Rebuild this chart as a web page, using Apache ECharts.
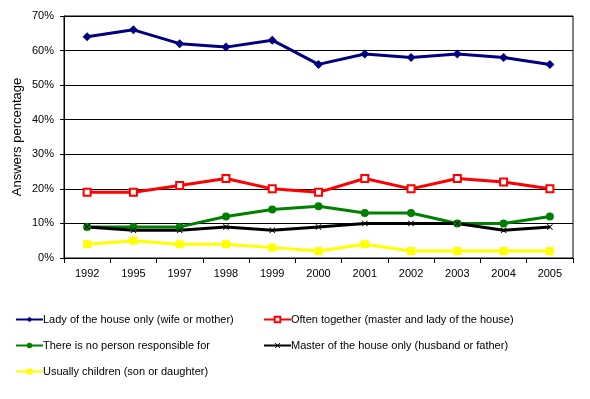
<!DOCTYPE html>
<html>
<head>
<meta charset="utf-8">
<script src="https://cdn.jsdelivr.net/npm/echarts@6/dist/echarts.min.js"></script>
<style>
  html, body { margin: 0; padding: 0; background: #fff; }
  #chart { width: 590px; height: 399px; }
</style>
</head>
<body>
<div id="chart"></div>
<script>
var years = ['1992', '1995', '1997', '1998', '1999', '2000', '2001', '2002', '2003', '2004', '2005'];
var ladyOnly = [64, 66, 62, 61, 63, 56, 59, 58, 59, 58, 56];
var oftenTogether = [19, 19, 21, 23, 20, 19, 23, 20, 23, 22, 20];
var noPerson = [9, 9, 9, 12, 14, 15, 13, 13, 10, 10, 12];
var masterOnly = [9, 8, 8, 9, 8, 9, 10, 10, 10, 8, 9];
var children = [4, 5, 4, 4, 3, 2, 4, 2, 2, 2, 2];

var font = 'Liberation Sans, Arial, sans-serif';
var xMark = 'path://M0,1L1,0L5,4L9,0L10,1L6,5L10,9L9,10L5,6L1,10L0,9L4,5Z';

function line(name, data, color, symbol, size, border) {
    return {
        name: name,
        type: 'line',
        data: data,
        symbol: symbol,
        symbolSize: size,
        showAllSymbol: true,
        lineStyle: { color: color, width: 3 },
        itemStyle: { color: color, borderColor: color, borderWidth: border },
        emphasis: { disabled: true },
        animation: false
    };
}

var myChart = echarts.init(document.getElementById('chart'));

var legendCommon = {
    orient: 'vertical',
    itemWidth: 27,
    itemHeight: 7,
    itemGap: 15,
    textStyle: { fontFamily: font, fontSize: 11, color: '#000', padding: [0, 0, 0, -5] },
    selectedMode: false
};

var option = {
    backgroundColor: '#fff',
    grid: {
        left: 64, right: 17, top: 16, bottom: 141,
        show: true, borderColor: '#000', borderWidth: 1
    },
    legend: [
        Object.assign({}, legendCommon, {
            left: 10, top: 309,
            data: ['Lady of the house only (wife or mother)', 'There is no person responsible for', 'Usually children (son or daughter)']
        }),
        Object.assign({}, legendCommon, {
            left: 258, top: 309,
            data: ['Often together (master and lady of the house)', 'Master of the house only (husband or father)']
        })
    ],
    xAxis: {
        type: 'category',
        data: years,
        boundaryGap: true,
        axisLine: { lineStyle: { color: '#000', width: 1 } },
        axisTick: { show: true, length: 5, lineStyle: { color: '#000' } },
        axisLabel: { color: '#000', fontFamily: font, fontSize: 11, margin: 10 }
    },
    yAxis: {
        type: 'value',
        min: 0, max: 70, interval: 10,
        name: 'Answers percentage',
        nameLocation: 'middle',
        nameGap: 40,
        nameMoveOverlap: false,
        nameTextStyle: { color: '#000', fontFamily: font, fontSize: 13 },
        axisLine: { show: true, lineStyle: { color: '#000', width: 1 } },
        axisTick: { show: true, length: 4, lineStyle: { color: '#000' } },
        axisLabel: { color: '#000', fontFamily: font, fontSize: 11, margin: 10, formatter: '{value}%' },
        splitLine: { lineStyle: { color: '#000', width: 1 } }
    },
    series: [
        line('Lady of the house only (wife or mother)', ladyOnly, '#000080', 'diamond', 9, 0),
        line('Often together (master and lady of the house)', oftenTogether, '#ff0000', 'emptyRect', 7, 1),
        line('There is no person responsible for', noPerson, '#008000', 'circle', 8, 0),
        line('Master of the house only (husband or father)', masterOnly, '#000000', xMark, 6, 0),
        line('Usually children (son or daughter)', children, '#ffff00', 'rect', 8, 0)
    ]
};

myChart.setOption(option);
</script>
</body>
</html>
